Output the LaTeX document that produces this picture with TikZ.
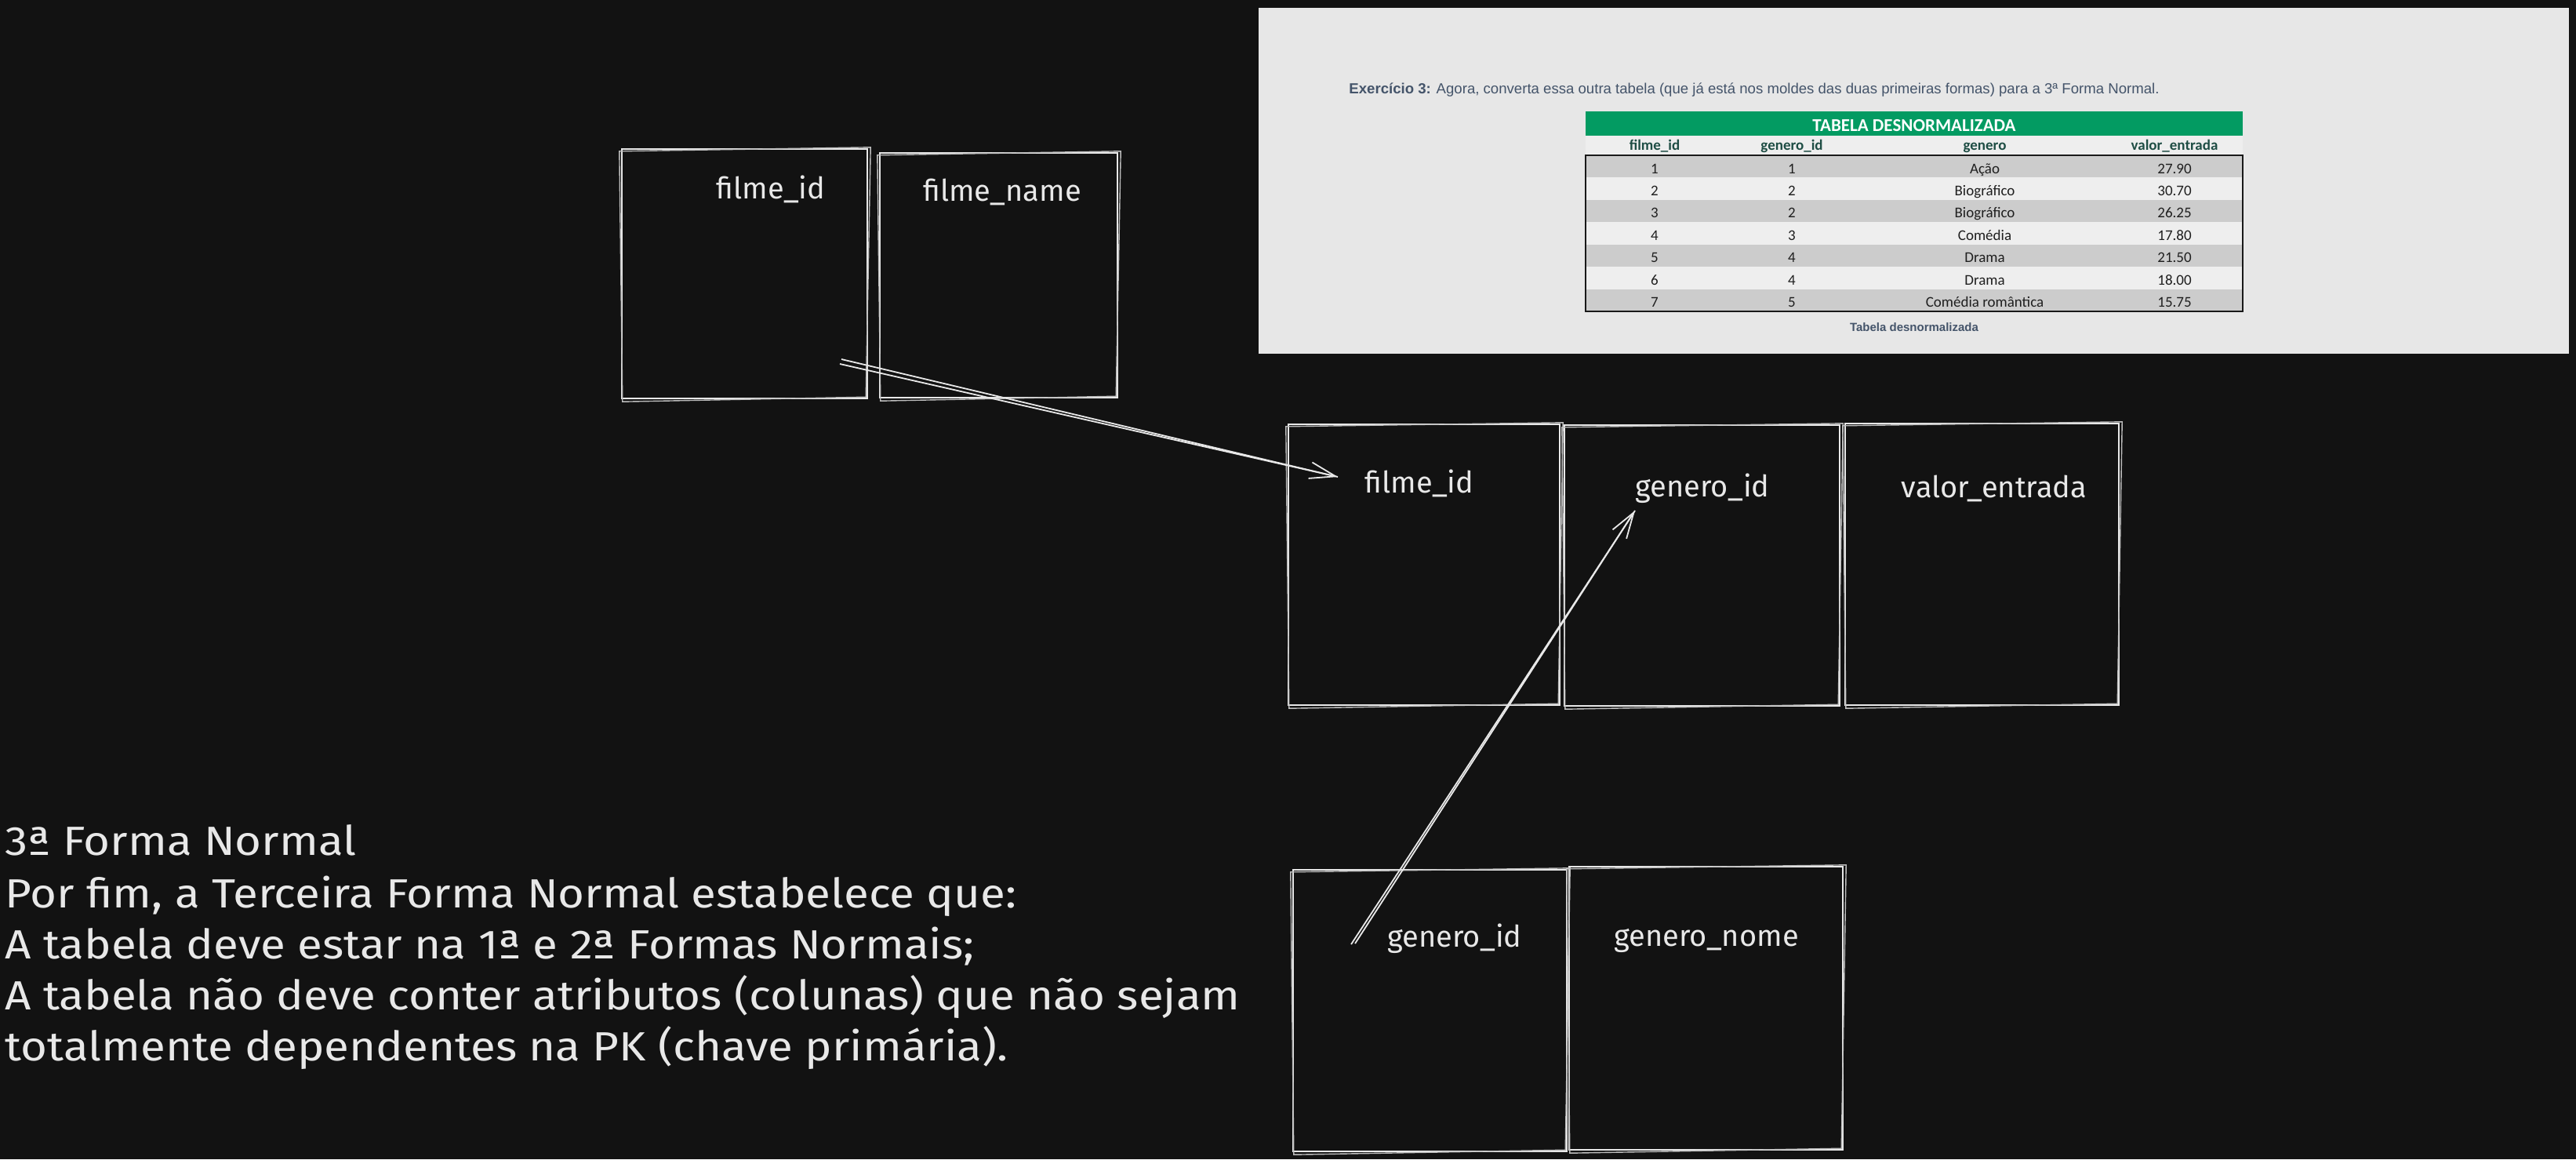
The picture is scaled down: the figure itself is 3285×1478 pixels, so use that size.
\documentclass[tikz,border=0pt]{standalone}
\usepackage{fontspec}
\setmainfont{Liberation Sans}
\newfontfamily\hand{Fira Sans}
\newfontfamily\handwide{Fira Sans}[FakeStretch=1.12]
\newfontfamily\calib{Carlito}
\usetikzlibrary{arrows.meta,calc}
\definecolor{bg}{HTML}{121212}
\definecolor{ink}{HTML}{E8E8E8}
\definecolor{panel}{HTML}{E7E7E7}
\definecolor{tgreen}{HTML}{039B62}
\definecolor{hdrtxt}{HTML}{1E4D44}
\definecolor{rowdark}{HTML}{CCCCCC}
\definecolor{rowlight}{HTML}{EEEEEE}
\definecolor{slate}{HTML}{44546A}
\newcommand\roughen[1]{%
  \draw[ink!80!bg, line width=0.7pt]
    ([shift={(-2,4)}]#1.north west) -- ([shift={(3,-1)}]#1.north east)
    -- ([shift={(-3,-3)}]#1.south east) -- ([shift={(2,3)}]#1.south west) -- cycle;}
\begin{document}
\begin{tikzpicture}[x=0.5pt,y=-0.5pt,
  sketch/.style={draw=ink, line width=1.2pt, rectangle, inner sep=0pt},
  lbl/.style={text=ink, font=\hand\fontsize{19}{23}\selectfont, anchor=base, inner sep=0pt},
  para/.style={text=ink, font=\handwide\fontsize{26}{32}\selectfont, anchor=base west, inner sep=0pt},
  conn/.style={draw=ink, line width=0.9pt},
  connhead/.style={conn, -{Straight Barb[length=16.5pt,width=10.5pt,line width=0.9pt]}},
  cell/.style={font=\calib\fontsize{9.5}{11}\selectfont, text=black!88, anchor=base, inner sep=0pt},
  hcell/.style={font=\calib\bfseries\fontsize{9.5}{11}\selectfont, text=hdrtxt, anchor=base, inner sep=0pt},
]
\useasboundingbox (0,0) rectangle (3285,1478);
\fill[bg] (0,0) rectangle (3285,1478);

% ---------- screenshot panel ----------
\fill[panel] (1605,10) rectangle (3276,451);
\node[anchor=base west, inner sep=0pt, text=slate, font=\fontsize{9.3}{11}\selectfont] (ex) at (1720,119)
  {\textbf{Exercício 3:} Agora, converta essa outra tabela (que já está nos moldes das duas primeiras formas) para a 3ª Forma Normal.};
\fill[tgreen] (2022,142) rectangle (2860,173);
\node[anchor=base, inner sep=0pt, text=white, font=\calib\bfseries\fontsize{11.5}{13}\selectfont] (title) at (2441,167) {TABELA DESNORMALIZADA};
\fill[rowlight] (2022,173) rectangle (2860,198);
\node[hcell] (h1) at (2110,191) {filme\_id};
\node[hcell] (h2) at (2285,191) {genero\_id};
\node[hcell] (h3) at (2531,191) {genero};
\node[hcell] (h4) at (2773,191) {valor\_entrada};
\foreach \i/\a/\b/\c/\d in {1/1/1/Ação/27.90, 2/2/2/Biográfico/30.70, 3/3/2/Biográfico/26.25, 4/4/3/Comédia/17.80, 5/5/4/Drama/21.50, 6/6/4/Drama/18.00, 7/7/5/Comédia romântica/15.75}{
  \pgfmathsetmacro\top{198+(\i-1)*28.43}
  \pgfmathsetmacro\bot{\top+28.43}
  \pgfmathsetmacro\bl{\top+23}
  \ifodd\i \fill[rowdark] (2022,\top) rectangle (2860,\bot);
  \else \fill[rowlight] (2022,\top) rectangle (2860,\bot); \fi
  \node[cell] (r\i a) at (2110,\bl) {\a};
  \node[cell] (r\i b) at (2285,\bl) {\b};
  \node[cell] (r\i c) at (2531,\bl) {\c};
  \node[cell] (r\i d) at (2773,\bl) {\d};
}
\draw[black!90, line width=1.2pt] (2022,198) rectangle (2860,397);
\node[anchor=base, inner sep=0pt, text=slate, font=\bfseries\fontsize{7.5}{9}\selectfont] (cap) at (2441,422) {Tabela desnormalizada};

% ---------- sketch boxes ----------
\node[sketch, minimum width=156.5pt, minimum height=159pt] (A) at (949.5,349) {};
\node[sketch, minimum width=151.5pt, minimum height=156pt] (B) at (1273.5,351) {};
\node[sketch, minimum width=173pt, minimum height=179pt] (C) at (1816,720) {};
\node[sketch, minimum width=175.5pt, minimum height=179pt] (D) at (2170.5,721) {};
\node[sketch, minimum width=174.5pt, minimum height=179.5pt] (E) at (2527.5,719.5) {};
\node[sketch, minimum width=174.5pt, minimum height=179.5pt] (F) at (1823.5,1288.5) {};
\node[sketch, minimum width=174.5pt, minimum height=180.5pt] (G) at (2175.5,1285.5) {};
\foreach \n in {A,B,C,D,E,F,G}{\roughen{\n}}

\node[lbl] (lA) at (983,253) {filme\_id};
\node[lbl] (lB) at (1278,256) {filme\_name};
\node[lbl] (lC) at (1810,628) {filme\_id};
\node[lbl] (lD) at (2171,633) {genero\_id};
\node[lbl] (lE) at (2543,634) {valor\_entrada};
\node[lbl] (lF) at (1855,1207) {genero\_id};
\node[lbl] (lG) at (2176,1206) {genero\_nome};

% ---------- connectors ----------
\coordinate (a1s) at (1073,458);
\coordinate (a1t) at (1071,464);
\coordinate (a1e) at (1706,608);
\coordinate (a2s) at (1723,1204);
\coordinate (a2t) at (1728,1203);
\coordinate (a2e) at (2085,651);
\draw[connhead] (a1s) -- (a1e);
\draw[conn] (a1t) -- (a1e);
\draw[connhead] (a2s) -- (a2e);
\draw[conn] (a2t) -- (a2e);

% ---------- text ----------
\node[para] (t1) at (6,1090) {3ª Forma Normal};
\node[para] (t2) at (6,1157) {Por fim, a Terceira Forma Normal estabelece que:};
\node[para] (t3) at (6,1222) {A tabela deve estar na 1ª e 2ª Formas Normais;};
\node[para] (t4) at (6,1287) {A tabela não deve conter atributos (colunas) que não sejam};
\node[para] (t5) at (6,1352) {totalmente dependentes na PK (chave primária).};
\end{tikzpicture}
\end{document}
